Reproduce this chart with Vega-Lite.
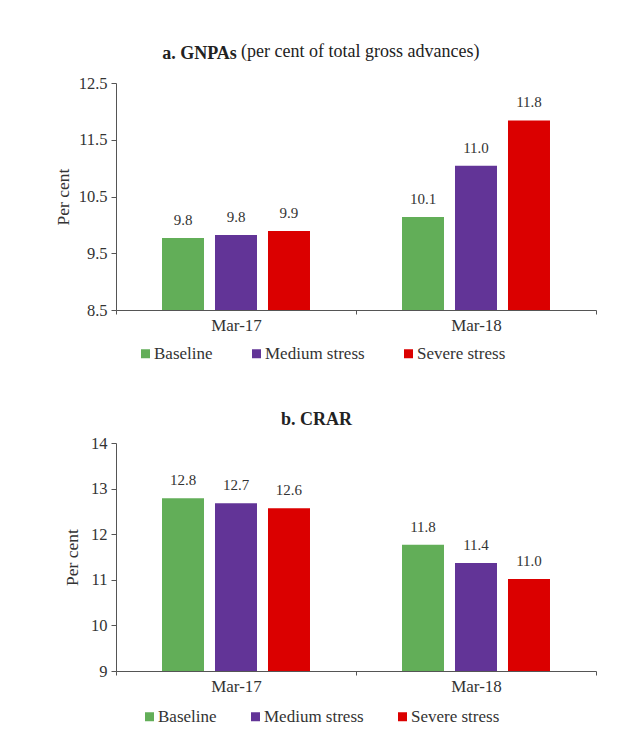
{
  "$schema": "https://vega.github.io/schema/vega-lite/v6.json",
  "padding": {"left": 54, "top": 43, "right": 10, "bottom": 5},
  "background": "white",
  "spacing": 49,
  "config": {
    "font": "Liberation Serif",
    "view": {"stroke": null},
    "axis": {
      "labelFont": "Liberation Serif",
      "titleFont": "Liberation Serif",
      "domainColor": "#555555",
      "tickColor": "#555555",
      "labelColor": "#333333",
      "titleColor": "#333333",
      "grid": false
    },
    "legend": {
      "labelFont": "Liberation Serif",
      "labelColor": "#333333"
    },
    "title": {"font": "Liberation Serif", "color": "#222222", "subtitleFont": "Liberation Serif", "subtitleColor": "#222222"}
  },
  "resolve": {"scale": {"y": "independent", "x": "independent", "color": "independent"}, "legend": {"color": "independent"}},
  "vconcat": [
    {
      "title": {
        "text": "a. GNPAs",
        "anchor": "start",
        "frame": "bounds",
        "dx": 108,
        "fontSize": 18,
        "fontWeight": "bold",
        "font": "Liberation Serif",
        "offset": -20
      },
      "vconcat": [
        {
          "width": 480,
          "height": 227,
          "title": {
            "text": "(per cent of total gross advances)",
            "anchor": "start",
            "frame": "group",
            "dx": 125,
            "fontSize": 18,
            "fontWeight": "normal",
            "font": "Liberation Serif",
            "offset": 14
          },
          "data": {
            "values": [
              {"period": "Mar-17", "scenario": "Baseline", "value": 9.77},
              {"period": "Mar-17", "scenario": "Medium stress", "value": 9.82},
              {"period": "Mar-17", "scenario": "Severe stress", "value": 9.89},
              {"period": "Mar-18", "scenario": "Baseline", "value": 10.14},
              {"period": "Mar-18", "scenario": "Medium stress", "value": 11.04},
              {"period": "Mar-18", "scenario": "Severe stress", "value": 11.84}
            ]
          },
          "encoding": {
            "x": {
              "field": "period", "type": "nominal",
              "scale": {"paddingInner": 0, "paddingOuter": 0},
              "axis": {"title": null, "labelAngle": 0, "tickBand": "extent", "tickSize": 4, "labelPadding": 3, "labelFontSize": 17}
            },
            "xOffset": {
              "field": "scenario", "type": "nominal",
              "sort": ["Baseline", "Medium stress", "Severe stress"],
              "scale": {"paddingInner": 0.2075, "paddingOuter": 0.868}
            },
            "y": {
              "field": "value", "type": "quantitative",
              "scale": {"domain": [8.5, 12.5], "nice": false, "zero": false, "clamp": true},
              "axis": {"title": "Per cent", "values": [8.5, 9.5, 10.5, 11.5, 12.5], "format": ".1f", "tickSize": 5, "labelPadding": 4, "labelFontSize": 16.5, "titleFontSize": 17.5, "titleFontWeight": "normal", "titlePadding": 6}
            }
          },
          "layer": [
            {
              "mark": {"type": "bar"},
              "encoding": {
                "color": {
                  "field": "scenario", "type": "nominal",
                  "scale": {"domain": ["Baseline", "Medium stress", "Severe stress"], "range": ["#62AE58", "#623497", "#DB0000"]},
                  "legend": {"title": null, "orient": "none", "legendX": 21, "legendY": 262, "direction": "horizontal", "symbolType": "square", "symbolSize": 81, "symbolStrokeWidth": 0, "symbolOpacity": 1, "labelFontSize": 17, "columnPadding": 35, "labelOffset": 0}
                }
              }
            },
            {
              "mark": {"type": "text", "baseline": "alphabetic", "dy": -13, "fontSize": 15, "color": "#333333"},
              "encoding": {"text": {"field": "value", "type": "quantitative", "format": ".1f"}}
            }
          ]
        }
      ]
    },
    {
      "width": 480,
      "height": 228,
      "title": {
        "text": "b. CRAR",
        "anchor": "start",
        "frame": "group",
        "dx": 165,
        "fontSize": 18,
        "fontWeight": "bold",
        "font": "Liberation Serif",
        "offset": 6
      },
      "data": {
        "values": [
          {"period": "Mar-17", "scenario": "Baseline", "value": 12.79},
          {"period": "Mar-17", "scenario": "Medium stress", "value": 12.68},
          {"period": "Mar-17", "scenario": "Severe stress", "value": 12.57},
          {"period": "Mar-18", "scenario": "Baseline", "value": 11.77},
          {"period": "Mar-18", "scenario": "Medium stress", "value": 11.37},
          {"period": "Mar-18", "scenario": "Severe stress", "value": 11.02}
        ]
      },
      "encoding": {
        "x": {
          "field": "period", "type": "nominal",
          "scale": {"paddingInner": 0, "paddingOuter": 0},
          "axis": {"title": null, "labelAngle": 0, "tickBand": "extent", "tickSize": 4, "labelPadding": 3, "labelFontSize": 17}
        },
        "xOffset": {
          "field": "scenario", "type": "nominal",
          "sort": ["Baseline", "Medium stress", "Severe stress"],
          "scale": {"paddingInner": 0.2075, "paddingOuter": 0.868}
        },
        "y": {
          "field": "value", "type": "quantitative",
          "scale": {"domain": [9, 14], "nice": false, "zero": false, "clamp": true},
          "axis": {"title": "Per cent", "values": [9, 10, 11, 12, 13, 14], "tickSize": 5, "labelPadding": 4, "labelFontSize": 16.5, "titleFontSize": 17.5, "titleFontWeight": "normal", "titlePadding": 9}
        }
      },
      "layer": [
        {
          "mark": {"type": "bar"},
          "encoding": {
            "color": {
              "field": "scenario", "type": "nominal",
              "scale": {"domain": ["Baseline", "Medium stress", "Severe stress"], "range": ["#62AE58", "#623497", "#DB0000"]},
              "legend": {"title": null, "orient": "none", "legendX": 25, "legendY": 265, "direction": "horizontal", "symbolType": "square", "symbolSize": 81, "symbolStrokeWidth": 0, "symbolOpacity": 1, "labelFontSize": 17, "columnPadding": 30, "labelOffset": 0}
            }
          }
        },
        {
          "mark": {"type": "text", "baseline": "alphabetic", "dy": -13, "fontSize": 15, "color": "#333333"},
          "encoding": {"text": {"field": "value", "type": "quantitative", "format": ".1f"}}
        }
      ]
    }
  ]
}
